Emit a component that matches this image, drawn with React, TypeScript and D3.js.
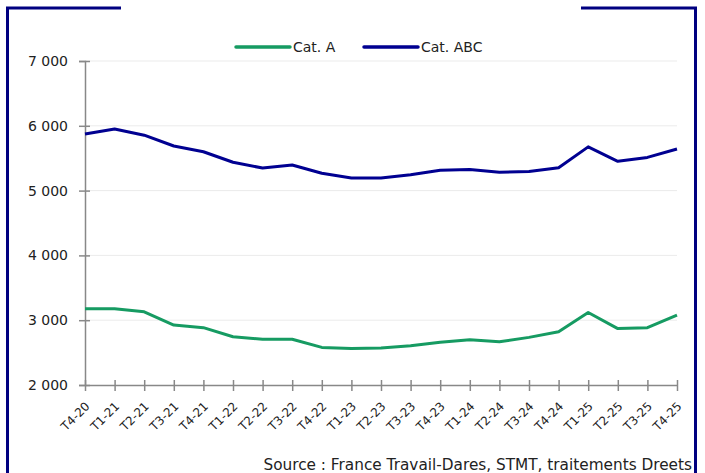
import React, { useEffect, useRef } from 'react';
import * as d3 from 'd3';

const quarters = ['T4-20', 'T1-21', 'T2-21', 'T3-21', 'T4-21', 'T1-22', 'T2-22', 'T3-22', 'T4-22', 'T1-23', 'T2-23',
  'T3-23', 'T4-23', 'T1-24', 'T2-24', 'T3-24', 'T4-24', 'T1-25', 'T2-25', 'T3-25', 'T4-25'];
const catA = [3175, 3175, 3130, 2925, 2885, 2745, 2705, 2705, 2580, 2565, 2572,
  2605, 2658, 2700, 2668, 2735, 2822, 3118, 2870, 2885, 3080];
const catABC = [5872, 5950, 5855, 5688, 5600, 5437, 5348, 5395, 5267, 5194, 5194,
  5245, 5315, 5325, 5285, 5295, 5352, 5675, 5452, 5512, 5642];
const yTicks = [2000, 3000, 4000, 5000, 6000, 7000];
const series = [
  { name: 'Cat. A', values: catA, color: '#169B62' },
  { name: 'Cat. ABC', values: catABC, color: '#000091' },
];

const W = 705;
const H = 473;
const FONT = '"DejaVu Sans", sans-serif';

const App = () => {
  const ref = useRef<SVGSVGElement>(null);

  useEffect(() => {
    const svg = d3.select(ref.current);
    svg.selectAll('*').remove();

    const x = d3.scalePoint().domain(quarters).range([85, 677]);
    const y = d3.scaleLinear().domain([2000, 7000]).range([385, 61]);

    // frame
    const frame = svg.append('g').attr('stroke', '#000080').attr('stroke-width', 3).attr('fill', 'none');
    frame.append('path').attr('d', `M121,8 H7.5 V${H + 5}`);
    frame.append('path').attr('d', `M581,8 H695.5 V${H + 5}`);

    // grid
    svg.append('g').selectAll('line').data(yTicks.slice(1)).enter().append('line')
      .attr('x1', 85).attr('x2', 677)
      .attr('y1', d => y(d)).attr('y2', d => y(d))
      .attr('stroke', '#ebebeb').attr('stroke-width', 1);

    // y axis
    const yAxis = svg.append('g')
      .attr('transform', 'translate(85,0)')
      .call(d3.axisLeft(y).tickValues(yTicks).tickSize(6).tickPadding(11)
        .tickFormat(d => d3.format(',')(d as number).replace(',', ' ')));
    yAxis.select('.domain').attr('stroke', '#888').attr('stroke-width', 1.5);
    yAxis.selectAll('.tick line').attr('stroke', '#888').attr('stroke-width', 1.5).attr('x2', 5).attr('x1', -6);
    yAxis.selectAll('text').attr('fill', '#222').style('font-size', '14px').style('font-family', FONT);

    // x axis
    const xAxis = svg.append('g')
      .attr('transform', 'translate(0,385)')
      .call(d3.axisBottom(x).tickSize(6).tickSizeOuter(0));
    xAxis.select('.domain').attr('stroke', '#888').attr('stroke-width', 1.5);
    xAxis.selectAll('.tick line').attr('stroke', '#888').attr('stroke-width', 1.5).attr('y1', -5).attr('y2', 6);
    xAxis.selectAll('text')
      .attr('fill', '#222').style('font-size', '12px').style('font-family', FONT)
      .attr('text-anchor', 'end')
      .attr('x', 0).attr('y', 0).attr('dy', 0)
      .attr('transform', 'translate(5,22) rotate(-45)');

    // lines
    const line = d3.line<number>()
      .x((_, i) => x(quarters[i]) as number)
      .y(d => y(d));
    series.forEach(s => {
      svg.append('path')
        .datum(s.values)
        .attr('d', line)
        .attr('fill', 'none')
        .attr('stroke', s.color)
        .attr('stroke-width', 3)
        .attr('stroke-linejoin', 'round');
    });

    // legend
    const legX = [236, 364];
    series.forEach((s, i) => {
      const g = svg.append('g').attr('transform', `translate(${legX[i]},47)`);
      g.append('line').attr('x1', 0).attr('x2', 54).attr('stroke', s.color)
        .attr('stroke-width', 3.5).attr('stroke-linecap', 'round');
      g.append('text').attr('x', 57).attr('y', 5).text(s.name)
        .style('font-size', '14px').style('font-family', FONT).attr('fill', '#222');
    });

    // source
    svg.append('text')
      .attr('x', 692).attr('y', 469.5)
      .attr('text-anchor', 'end')
      .text('Source : France Travail-Dares, STMT, traitements Dreets')
      .style('font-size', '15.3px').style('font-family', FONT).attr('fill', '#222');
  }, []);

  return (
    <svg ref={ref} width={W} height={H}
      style={{ position: 'absolute', left: 0, top: 0, background: '#fff' }} />
  );
};

export default App;
